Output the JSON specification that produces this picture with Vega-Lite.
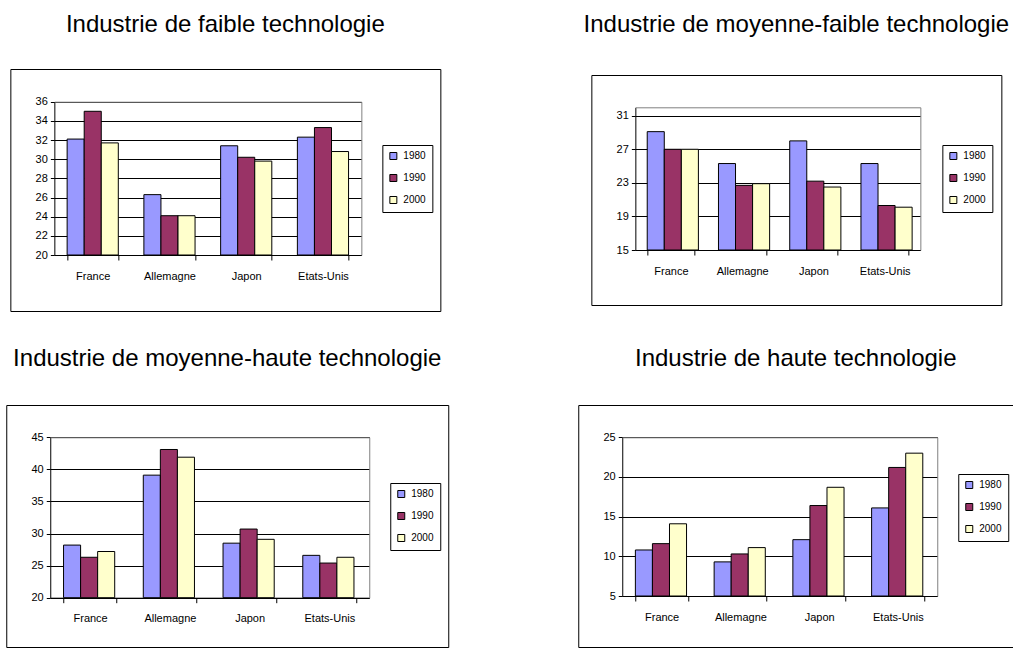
{
  "$schema": "https://vega.github.io/schema/vega-lite/v6.json",
  "padding": {"left": 5, "top": 12, "right": 0, "bottom": 0},
  "background": "white",
  "datasets": {
    "faible": [
      {"pays": "France", "annee": "1980", "valeur": 32.1},
      {"pays": "France", "annee": "1990", "valeur": 35.0},
      {"pays": "France", "annee": "2000", "valeur": 31.7},
      {"pays": "Allemagne", "annee": "1980", "valeur": 26.3},
      {"pays": "Allemagne", "annee": "1990", "valeur": 24.1},
      {"pays": "Allemagne", "annee": "2000", "valeur": 24.1},
      {"pays": "Japon", "annee": "1980", "valeur": 31.4},
      {"pays": "Japon", "annee": "1990", "valeur": 30.2},
      {"pays": "Japon", "annee": "2000", "valeur": 29.8},
      {"pays": "Etats-Unis", "annee": "1980", "valeur": 32.3},
      {"pays": "Etats-Unis", "annee": "1990", "valeur": 33.3},
      {"pays": "Etats-Unis", "annee": "2000", "valeur": 30.8}
    ],
    "moyfaible": [
      {"pays": "France", "annee": "1980", "valeur": 29.1},
      {"pays": "France", "annee": "1990", "valeur": 27.0},
      {"pays": "France", "annee": "2000", "valeur": 27.0},
      {"pays": "Allemagne", "annee": "1980", "valeur": 25.3},
      {"pays": "Allemagne", "annee": "1990", "valeur": 22.7},
      {"pays": "Allemagne", "annee": "2000", "valeur": 22.9},
      {"pays": "Japon", "annee": "1980", "valeur": 28.0},
      {"pays": "Japon", "annee": "1990", "valeur": 23.2},
      {"pays": "Japon", "annee": "2000", "valeur": 22.5},
      {"pays": "Etats-Unis", "annee": "1980", "valeur": 25.3},
      {"pays": "Etats-Unis", "annee": "1990", "valeur": 20.3},
      {"pays": "Etats-Unis", "annee": "2000", "valeur": 20.1}
    ],
    "moyhaute": [
      {"pays": "France", "annee": "1980", "valeur": 28.2},
      {"pays": "France", "annee": "1990", "valeur": 26.3},
      {"pays": "France", "annee": "2000", "valeur": 27.2},
      {"pays": "Allemagne", "annee": "1980", "valeur": 39.1},
      {"pays": "Allemagne", "annee": "1990", "valeur": 43.1},
      {"pays": "Allemagne", "annee": "2000", "valeur": 41.9},
      {"pays": "Japon", "annee": "1980", "valeur": 28.5},
      {"pays": "Japon", "annee": "1990", "valeur": 30.7},
      {"pays": "Japon", "annee": "2000", "valeur": 29.1},
      {"pays": "Etats-Unis", "annee": "1980", "valeur": 26.6},
      {"pays": "Etats-Unis", "annee": "1990", "valeur": 25.4},
      {"pays": "Etats-Unis", "annee": "2000", "valeur": 26.3}
    ],
    "haute": [
      {"pays": "France", "annee": "1980", "valeur": 10.8},
      {"pays": "France", "annee": "1990", "valeur": 11.6},
      {"pays": "France", "annee": "2000", "valeur": 14.1},
      {"pays": "Allemagne", "annee": "1980", "valeur": 9.3},
      {"pays": "Allemagne", "annee": "1990", "valeur": 10.3},
      {"pays": "Allemagne", "annee": "2000", "valeur": 11.1},
      {"pays": "Japon", "annee": "1980", "valeur": 12.1},
      {"pays": "Japon", "annee": "1990", "valeur": 16.4},
      {"pays": "Japon", "annee": "2000", "valeur": 18.7},
      {"pays": "Etats-Unis", "annee": "1980", "valeur": 16.1},
      {"pays": "Etats-Unis", "annee": "1990", "valeur": 21.2},
      {"pays": "Etats-Unis", "annee": "2000", "valeur": 23.0}
    ]
  },
  "bounds": "full",
  "center": true,
  "spacing": 34,
  "resolve": {"scale": {"color": "independent"}, "legend": {"color": "independent"}},
  "vconcat": [
    {
      "bounds": "flush",
      "center": true,
      "spacing": 151,
      "resolve": {"scale": {"color": "independent"}, "legend": {"color": "independent"}},
      "hconcat": [
        {
          "width": 430, "height": 242,
          "title": {"text": "Industrie de faible technologie", "offset": 32},
          "data": {"name": "faible"},
          "layer": [
            {
              "mark": {"type": "bar", "stroke": "black", "strokeWidth": 1},
              "encoding": {
                "x": {"field": "pays", "type": "nominal", "sort": ["France", "Allemagne", "Japon", "Etats-Unis"],
                      "scale": {"range": [44, 351], "paddingInner": 0.3333, "paddingOuter": 0.1667},
                      "axis": {"orient": "bottom", "offset": -56, "title": null, "labelAngle": 0, "tickBand": "extent", "tickSize": 5, "labelPadding": 10, "grid": false}},
                "xOffset": {"field": "annee", "type": "nominal"},
                "y": {"field": "valeur", "type": "quantitative",
                      "scale": {"domain": [20, 36], "range": [186, 32.7], "zero": false, "nice": false},
                      "axis": {"orient": "left", "offset": -44, "title": null, "values": [20, 22, 24, 26, 28, 30, 32, 34, 36], "grid": true, "tickSize": 4, "labelPadding": 3, "labelFlush": false, "labelOverlap": false}},
                "y2": {"datum": 20},
                "color": {"field": "annee", "type": "nominal",
                          "scale": {"domain": ["1980", "1990", "2000"], "range": ["#9999FF", "#993366", "#FFFFCC"]},
                          "legend": {"title": null, "orient": "none", "legendX": 372, "legendY": 76}}
              }
            },
            {
              "mark": {"type": "point", "opacity": 0},
              "encoding": {
                "x": {"field": "pays", "type": "nominal", "sort": ["France", "Allemagne", "Japon", "Etats-Unis"],
                      "axis": {"orient": "top", "offset": -32.7, "title": null, "labels": false, "ticks": false, "grid": false, "domainColor": "#808080", "zindex": 1}},
                "y": {"field": "valeur", "type": "quantitative",
                      "axis": {"orient": "right", "offset": -79, "title": null, "labels": false, "ticks": false, "grid": false, "domainColor": "#808080", "zindex": 1}}
              }
            }
          ],
          "resolve": {"axis": {"x": "independent", "y": "independent"}}
        },
        {
          "width": 410, "height": 230,
          "title": {"text": "Industrie de moyenne-faible technologie", "offset": 38},
          "data": {"name": "moyfaible"},
          "layer": [
            {
              "mark": {"type": "bar", "stroke": "black", "strokeWidth": 1},
              "encoding": {
                "x": {"field": "pays", "type": "nominal", "sort": ["France", "Allemagne", "Japon", "Etats-Unis"],
                      "scale": {"range": [44, 329], "paddingInner": 0.3333, "paddingOuter": 0.1667},
                      "axis": {"orient": "bottom", "offset": -55, "title": null, "labelAngle": 0, "tickBand": "extent", "tickSize": 5, "labelPadding": 10, "grid": false}},
                "xOffset": {"field": "annee", "type": "nominal"},
                "y": {"field": "valeur", "type": "quantitative",
                      "scale": {"domain": [15, 32], "range": [175, 32.3], "zero": false, "nice": false},
                      "axis": {"orient": "left", "offset": -44, "title": null, "values": [15, 19, 23, 27, 31], "grid": true, "tickSize": 4, "labelPadding": 3, "labelFlush": false, "labelOverlap": false}},
                "y2": {"datum": 15},
                "color": {"field": "annee", "type": "nominal",
                          "scale": {"domain": ["1980", "1990", "2000"], "range": ["#9999FF", "#993366", "#FFFFCC"]},
                          "legend": {"title": null, "orient": "none", "legendX": 351, "legendY": 70}}
              }
            },
            {
              "mark": {"type": "point", "opacity": 0},
              "encoding": {
                "x": {"field": "pays", "type": "nominal", "sort": ["France", "Allemagne", "Japon", "Etats-Unis"],
                      "axis": {"orient": "top", "offset": -32.3, "title": null, "labels": false, "ticks": false, "grid": false, "domainColor": "#808080", "zindex": 1}},
                "y": {"field": "valeur", "type": "quantitative",
                      "axis": {"orient": "right", "offset": -81, "title": null, "labels": false, "ticks": false, "grid": false, "domainColor": "#808080", "zindex": 1}}
              }
            }
          ],
          "resolve": {"axis": {"x": "independent", "y": "independent"}}
        }
      ]
    },
    {
      "bounds": "flush",
      "spacing": 130,
      "resolve": {"scale": {"color": "independent"}, "legend": {"color": "independent"}},
      "hconcat": [
        {
          "width": 442, "height": 242,
          "title": {"text": "Industrie de moyenne-haute technologie", "offset": 34},
          "data": {"name": "moyhaute"},
          "layer": [
            {
              "mark": {"type": "bar", "stroke": "black", "strokeWidth": 1},
              "encoding": {
                "x": {"field": "pays", "type": "nominal", "sort": ["France", "Allemagne", "Japon", "Etats-Unis"],
                      "scale": {"range": [44, 363], "paddingInner": 0.3333, "paddingOuter": 0.1667},
                      "axis": {"orient": "bottom", "offset": -49.3, "title": null, "labelAngle": 0, "tickBand": "extent", "tickSize": 5, "labelPadding": 10, "grid": false}},
                "xOffset": {"field": "annee", "type": "nominal"},
                "y": {"field": "valeur", "type": "quantitative",
                      "scale": {"domain": [20, 45], "range": [192.7, 32.3], "zero": false, "nice": false},
                      "axis": {"orient": "left", "offset": -44, "title": null, "values": [20, 25, 30, 35, 40, 45], "grid": true, "tickSize": 4, "labelPadding": 3, "labelFlush": false, "labelOverlap": false}},
                "y2": {"datum": 20},
                "color": {"field": "annee", "type": "nominal",
                          "scale": {"domain": ["1980", "1990", "2000"], "range": ["#9999FF", "#993366", "#FFFFCC"]},
                          "legend": {"title": null, "orient": "none", "legendX": 384, "legendY": 78}}
              }
            },
            {
              "mark": {"type": "point", "opacity": 0},
              "encoding": {
                "x": {"field": "pays", "type": "nominal", "sort": ["France", "Allemagne", "Japon", "Etats-Unis"],
                      "axis": {"orient": "top", "offset": -32.3, "title": null, "labels": false, "ticks": false, "grid": false, "domainColor": "#808080", "zindex": 1}},
                "y": {"field": "valeur", "type": "quantitative",
                      "axis": {"orient": "right", "offset": -79, "title": null, "labels": false, "ticks": false, "grid": false, "domainColor": "#808080", "zindex": 1}}
              }
            }
          ],
          "resolve": {"axis": {"x": "independent", "y": "independent"}}
        },
        {
          "width": 435, "height": 242,
          "title": {"text": "Industrie de haute technologie", "offset": 34},
          "data": {"name": "haute"},
          "layer": [
            {
              "mark": {"type": "bar", "stroke": "black", "strokeWidth": 1},
              "encoding": {
                "x": {"field": "pays", "type": "nominal", "sort": ["France", "Allemagne", "Japon", "Etats-Unis"],
                      "scale": {"range": [44, 359], "paddingInner": 0.3333, "paddingOuter": 0.1667},
                      "axis": {"orient": "bottom", "offset": -51, "title": null, "labelAngle": 0, "tickBand": "extent", "tickSize": 5, "labelPadding": 10, "grid": false}},
                "xOffset": {"field": "annee", "type": "nominal"},
                "y": {"field": "valeur", "type": "quantitative",
                      "scale": {"domain": [5, 25], "range": [191, 32.3], "zero": false, "nice": false},
                      "axis": {"orient": "left", "offset": -44, "title": null, "values": [5, 10, 15, 20, 25], "grid": true, "tickSize": 4, "labelPadding": 3, "labelFlush": false, "labelOverlap": false}},
                "y2": {"datum": 5},
                "color": {"field": "annee", "type": "nominal",
                          "scale": {"domain": ["1980", "1990", "2000"], "range": ["#9999FF", "#993366", "#FFFFCC"]},
                          "legend": {"title": null, "orient": "none", "legendX": 380, "legendY": 69}}
              }
            },
            {
              "mark": {"type": "point", "opacity": 0},
              "encoding": {
                "x": {"field": "pays", "type": "nominal", "sort": ["France", "Allemagne", "Japon", "Etats-Unis"],
                      "axis": {"orient": "top", "offset": -32.3, "title": null, "labels": false, "ticks": false, "grid": false, "domainColor": "#808080", "zindex": 1}},
                "y": {"field": "valeur", "type": "quantitative",
                      "axis": {"orient": "right", "offset": -76, "title": null, "labels": false, "ticks": false, "grid": false, "domainColor": "#808080", "zindex": 1}}
              }
            }
          ],
          "resolve": {"axis": {"x": "independent", "y": "independent"}}
        }
      ]
    }
  ],
  "config": {
    "font": "Liberation Sans",
    "view": {"stroke": "black", "strokeWidth": 1, "fill": "white"},
    "title": {"font": "Liberation Sans", "fontSize": 24, "fontWeight": "normal", "color": "black", "anchor": "middle", "frame": "group", "baseline": "alphabetic"},
    "axis": {"labelFont": "Liberation Sans", "labelFontSize": 11, "labelColor": "black", "domainColor": "black", "domainWidth": 1, "tickColor": "black", "gridColor": "black", "gridOpacity": 1, "gridWidth": 1},
    "legend": {"strokeColor": "black", "fillColor": "white", "padding": 6, "rowPadding": 10, "symbolType": "square", "symbolSize": 49, "symbolStrokeColor": "black", "symbolStrokeWidth": 1, "symbolOpacity": 1, "labelFont": "Liberation Sans", "labelFontSize": 10, "labelColor": "black", "labelOffset": 5}
  }
}
